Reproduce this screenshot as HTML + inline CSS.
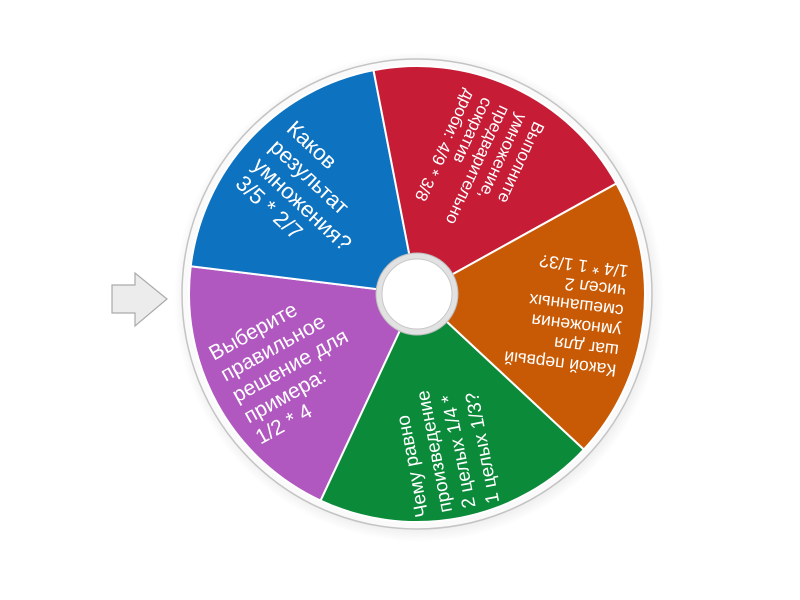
<!DOCTYPE html>
<html><head><meta charset="utf-8"><style>
html,body{margin:0;padding:0;background:#fff;}
svg{display:block;}
text{font-family:"Liberation Sans",sans-serif;fill:#fff;}
</style></head><body>
<svg width="800" height="600" viewBox="0 0 800 600" xmlns="http://www.w3.org/2000/svg">
<defs>
<radialGradient id="sh" cx="0.5" cy="0.5" r="0.5">
<stop offset="0.9" stop-color="#000" stop-opacity="0.12"/>
<stop offset="1" stop-color="#000" stop-opacity="0"/>
</radialGradient>
</defs>
<circle cx="419" cy="297" r="245" fill="url(#sh)"/>
<circle cx="417" cy="294" r="235" fill="#fafafa" stroke="#c4c4c4" stroke-width="1.5"/>
<g stroke="#fff" stroke-width="2">
<path d="M417,294 L320.6,500.6 A228,228 0 0 1 190.7,266.2 Z" fill="#b058c0"/>
<path d="M417,294 L190.7,266.2 A228,228 0 0 1 373.5,70.2 Z" fill="#0d72c0"/>
<path d="M417,294 L373.5,70.2 A228,228 0 0 1 616.4,183.5 Z" fill="#c61c36"/>
<path d="M417,294 L616.4,183.5 A228,228 0 0 1 583.8,449.5 Z" fill="#c95a05"/>
<path d="M417,294 L583.8,449.5 A228,228 0 0 1 320.6,500.6 Z" fill="#0b8b3a"/>
</g>
<circle cx="417" cy="294" r="41" fill="#e2e2e2" stroke="#bdbdbd" stroke-width="1"/>
<circle cx="417" cy="294" r="35" fill="#fff" stroke="#c8c8c8" stroke-width="1"/>

<g transform="translate(417,294) rotate(331)" font-size="21">
<text x="-210" y="-40">Выберите</text>
<text x="-210" y="-16">правильное</text>
<text x="-210" y="8">решение для</text>
<text x="-210" y="32">примера:</text>
<text x="-210" y="56">1/2 * 4</text>
</g>
<g transform="translate(417,294) rotate(43)" font-size="22">
<text x="-208" y="-30">Каков</text>
<text x="-208" y="-5">результат</text>
<text x="-208" y="20">умножения?</text>
<text x="-208" y="45">3/5 * 2/7</text>
</g>
<g transform="translate(417,294) rotate(115)" font-size="17">
<text x="-207" y="-33">Выполните</text>
<text x="-207" y="-14">умножение,</text>
<text x="-207" y="5">предварительно</text>
<text x="-207" y="24">сократив</text>
<text x="-207" y="43">дроби: 4/9 * 3/8</text>
</g>
<g transform="translate(417,294) rotate(187)" font-size="17.5">
<text x="-207" y="-46">Какой первый</text>
<text x="-207" y="-26">шаг для</text>
<text x="-207" y="-6">умножения</text>
<text x="-207" y="14">смешанных</text>
<text x="-207" y="34">чисел 2</text>
<text x="-207" y="54">1/4 * 1 1/3?</text>
</g>
<g transform="translate(417,294) rotate(259)" font-size="19">
<text x="-220" y="-31">Чему равно</text>
<text x="-220" y="-7">произведение</text>
<text x="-220" y="17">2 целых 1/4 *</text>
<text x="-220" y="41">1 целых 1/3?</text>
</g>

<path d="M112,285 L135,285 L135,273 L167,299 L135,326 L135,313 L112,313 Z" fill="#ececec" stroke="#aaa" stroke-width="1.2"/>
</svg>
</body></html>
